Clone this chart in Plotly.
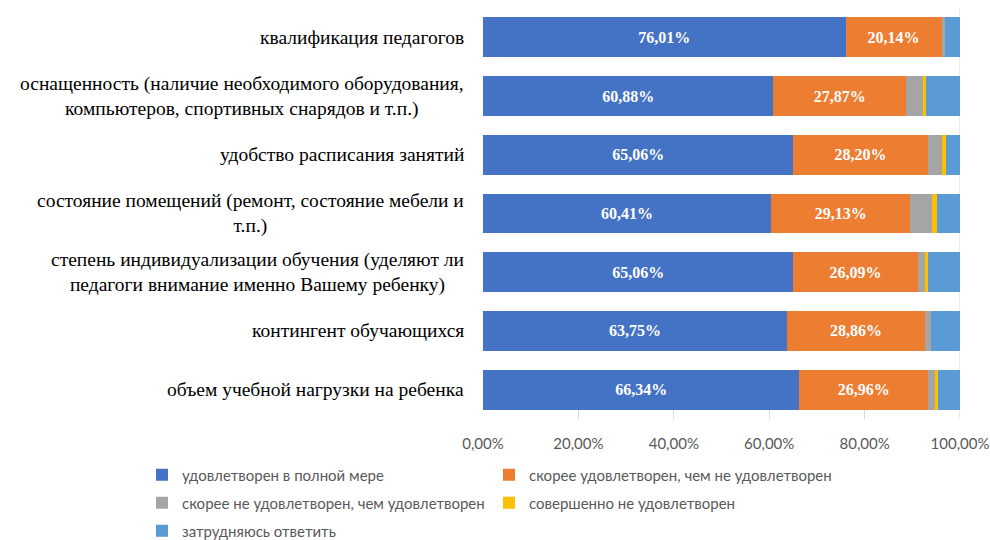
import plotly.graph_objects as go

# Категории (сверху вниз)
categories = [
    "квалификация педагогов",
    "оснащенность (наличие необходимого оборудования,<br>компьютеров, спортивных снарядов и т.п.)",
    "удобство расписания занятий",
    "состояние помещений (ремонт, состояние мебели и<br>т.п.)",
    "степень индивидуализации обучения (уделяют ли<br>педагоги внимание именно Вашему ребенку)",
    "контингент обучающихся",
    "объем учебной нагрузки на ребенка",
]

full = [76.01, 60.88, 65.06, 60.41, 65.06, 63.75, 66.34]
rather_yes = [20.14, 27.87, 28.20, 29.13, 26.09, 28.86, 26.96]
rather_no = [0.65, 3.40, 3.00, 4.50, 1.54, 1.30, 1.47]
not_at_all = [0.0, 0.80, 0.90, 1.05, 0.56, 0.0, 0.70]
hard_to_say = [3.20, 7.05, 2.84, 4.91, 6.80, 6.09, 4.53]

tick_vals = [0, 20, 40, 60, 80, 100]
tick_text = ["0,00%", "20,00%", "40,00%", "60,00%", "80,00%", "100,00%"]

series_names = [
    "удовлетворен в полной мере",
    "скорее удовлетворен, чем не удовлетворен",
    "скорее не удовлетворен, чем удовлетворен",
    "совершенно не удовлетворен",
    "затрудняюсь ответить",
]
series_values = [full, rather_yes, rather_no, not_at_all, hard_to_say]
colors = ["#4472C4", "#ED7D31", "#A5A5A5", "#FFC000", "#5B9BD5"]
legend_ids = ["legend", "legend", "legend2", "legend2", "legend3"]

fig = go.Figure()

for i, (name, vals) in enumerate(zip(series_names, series_values)):
    labelled = i < 2
    fig.add_trace(go.Bar(
        y=categories,
        x=vals,
        name=name,
        orientation="h",
        marker=dict(color=colors[i], line_width=0),
        texttemplate="%{x:.2f}%" if labelled else None,
        textposition="inside" if labelled else "none",
        insidetextanchor="middle",
        textfont=dict(family="Liberation Serif", size=16, color="white", weight="bold"),
        legend=legend_ids[i],
        hoverinfo="x+name",
    ))

# подписи категорий слева (по центру в несколько строк)
for cat in categories:
    fig.add_annotation(
        x=-0.035, xref="paper", xanchor="right",
        y=cat, yref="y",
        text=cat, align="center", showarrow=False,
        font=dict(family="Liberation Serif", size=19.5, color="#000000"),
    )

# линия 100%
fig.add_shape(type="line", x0=100, x1=100, xref="x", y0=0, y1=1, yref="paper",
              line=dict(color="#D9D9D9", width=1), layer="below")

legend_style = dict(
    orientation="h", xref="paper", yref="paper",
    xanchor="left", yanchor="middle",
    font=dict(family="Lato", size=15, color="#595959"),
    entrywidth=302, itemwidth=30, traceorder="normal",
    bgcolor="rgba(0,0,0,0)",
)
lx = (142 - 483) / 477

fig.update_layout(
    width=990, height=540,
    margin=dict(l=483, r=30, t=8, b=121, autoexpand=False),
    barmode="stack",
    bargap=0.32,
    separators=", ",
    plot_bgcolor="white",
    paper_bgcolor="white",
    legend=dict(x=lx, y=(419 - 475) / 411, **legend_style),
    legend2=dict(x=lx, y=(419 - 503) / 411, **legend_style),
    legend3=dict(x=lx, y=(419 - 531) / 411, **legend_style),
)

fig.update_xaxes(
    range=[0, 100], tickvals=tick_vals, ticktext=tick_text,
    showgrid=False, zeroline=False, showline=False,
    ticks="inside", ticklen=9, tickcolor="#D9D9D9",
    tickfont=dict(family="Lato", size=15, color="#595959"),
    ticklabelstandoff=14,
)
fig.update_yaxes(
    autorange="reversed", showticklabels=False,
    showgrid=False, zeroline=False, showline=False,
)

fig.write_html("out.html", config={"displayModeBar": False},
               post_script="document.body.style.margin='0';")
